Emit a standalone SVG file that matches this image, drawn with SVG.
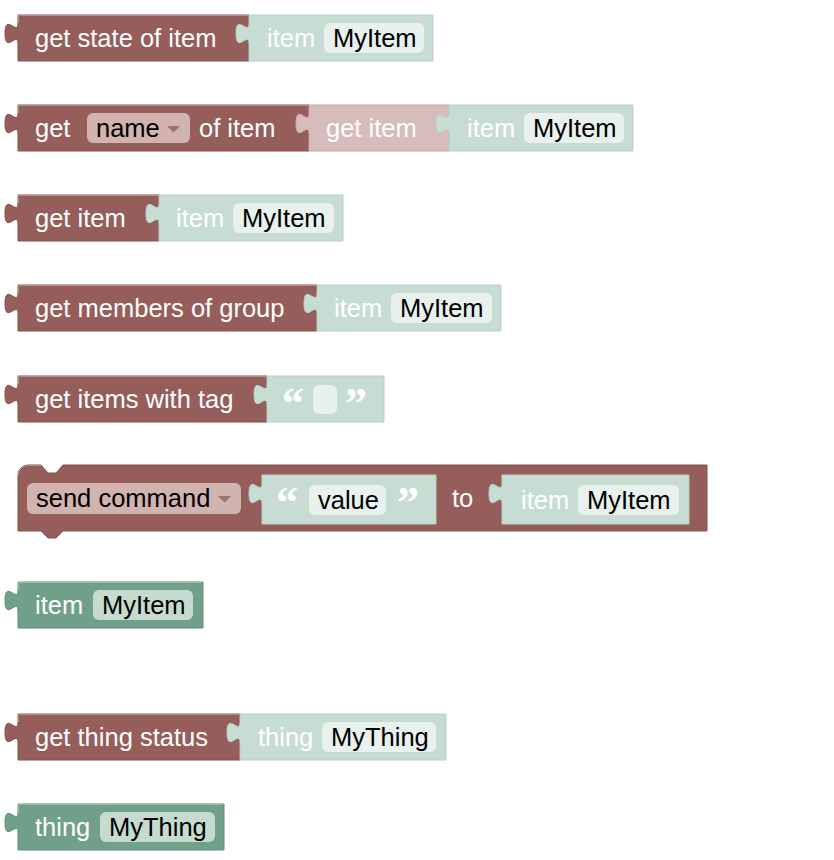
<svg xmlns="http://www.w3.org/2000/svg" width="834" height="860" viewBox="0 0 834 860">
<style>
text{font-family:"Liberation Sans",Arial,Helvetica,sans-serif;font-size:25.5px}
.r{fill:#955e5a;stroke:#84504c;stroke-width:1}
.g{fill:#c7ddd4;stroke:#b7cfc5;stroke-width:1}
.p{fill:#d6bcba;stroke:#c8aaa7;stroke-width:1}
.d{fill:#70a08a;stroke:#5f8e79;stroke-width:1}
.hr{stroke:#b48e8b;stroke-width:1;fill:none}
.hd{stroke:#95bba9;stroke-width:1;fill:none}
.w{fill:#ffffff}
.k{fill:#000000}
.fl{fill:#e8f1ed}
.fd{fill:#c5dbd0}
.dd{fill:#d1b3b0}
.ar{fill:#a0706b}
.q{font-family:"Liberation Serif","Times New Roman",serif;font-weight:bold;font-size:44px;fill:#ffffff}
</style>
<g id="connectors"></g>

<g id="row1" transform="translate(0,15)">
  <path class="r" d="M18,0 H249 V46 H18 V29 c0,-14 -13,11 -13,-10.5 s13,3.5 13,-10.5 Z"/>
  <path class="hr" d="M18.5,8 V0.5 H248"/>
  <text class="w" x="35" y="32">get state of item</text>
  <g id="row1-item">
    <path class="g" d="M249,0 H433 V46 H249 V29 c0,-14 -13,11 -13,-10.5 s13,3.5 13,-10.5 Z"/>
    <text class="w" x="267" y="32">item</text>
    <rect class="fl" x="324" y="8" width="100" height="30" rx="6"/>
    <text class="k" x="333" y="32">MyItem</text>
  </g>
</g>

<g id="row2" transform="translate(0,105)">
  <path class="r" d="M18,0 H309 V46 H18 V29 c0,-14 -13,11 -13,-10.5 s13,3.5 13,-10.5 Z"/>
  <path class="hr" d="M18.5,8 V0.5 H308"/>
  <text class="w" x="35" y="32">get</text>
  <rect class="dd" x="87" y="8" width="103" height="30" rx="6"/>
  <text class="k" x="96" y="32">name</text>
  <path class="ar" d="M167,21 h13 l-6.5,6.5 Z"/>
  <text class="w" x="199" y="32">of item</text>
  <g id="row2-getitem">
    <path class="p" d="M309,0 H449 V46 H309 V29 c0,-14 -13,11 -13,-10.5 s13,3.5 13,-10.5 Z"/>
    <text class="w" x="326" y="32">get item</text>
  </g>
  <g id="row2-item">
    <path class="g" d="M449,0 H633 V46 H449 V29 c0,-14 -13,11 -13,-10.5 s13,3.5 13,-10.5 Z"/>
    <text class="w" x="467" y="32">item</text>
    <rect class="fl" x="524" y="8" width="100" height="30" rx="6"/>
    <text class="k" x="533" y="32">MyItem</text>
  </g>
</g>

<g id="row3" transform="translate(0,195)">
  <path class="r" d="M18,0 H159 V46 H18 V29 c0,-14 -13,11 -13,-10.5 s13,3.5 13,-10.5 Z"/>
  <path class="hr" d="M18.5,8 V0.5 H158"/>
  <text class="w" x="35" y="32">get item</text>
  <g id="row3-item">
    <path class="g" d="M159,0 H343 V46 H159 V29 c0,-14 -13,11 -13,-10.5 s13,3.5 13,-10.5 Z"/>
    <text class="w" x="176" y="32">item</text>
    <rect class="fl" x="233" y="8" width="101" height="30" rx="6"/>
    <text class="k" x="242" y="32">MyItem</text>
  </g>
</g>

<g id="row4" transform="translate(0,285)">
  <path class="r" d="M18,0 H317 V46 H18 V29 c0,-14 -13,11 -13,-10.5 s13,3.5 13,-10.5 Z"/>
  <path class="hr" d="M18.5,8 V0.5 H316"/>
  <text class="w" x="35" y="32">get members of group</text>
  <g id="row4-item">
    <path class="g" d="M317,0 H501 V46 H317 V29 c0,-14 -13,11 -13,-10.5 s13,3.5 13,-10.5 Z"/>
    <text class="w" x="334" y="32">item</text>
    <rect class="fl" x="391" y="8" width="101" height="30" rx="6"/>
    <text class="k" x="400" y="32">MyItem</text>
  </g>
</g>

<g id="row5" transform="translate(0,376)">
  <path class="r" d="M18,0 H267 V46 H18 V29 c0,-14 -13,11 -13,-10.5 s13,3.5 13,-10.5 Z"/>
  <path class="hr" d="M18.5,8 V0.5 H266"/>
  <text class="w" x="35" y="32">get items with tag</text>
  <g id="row5-text">
    <path class="g" d="M267,0 H384 V46 H267 V29 c0,-14 -13,11 -13,-10.5 s13,3.5 13,-10.5 Z"/>
    <text class="q" x="282" y="42">“</text>
    <rect class="fl" x="313" y="9" width="24" height="29" rx="6"/>
    <text class="q" x="345" y="42">”</text>
  </g>
</g>

<g id="row6" transform="translate(0,465)">
  <path class="r" d="M18,10 A10,10 0 0 1 28,0 H41 l7,8 h8 l7,-8 H707 V66 H63 l-7,7 h-8 l-7,-7 H18 Z"/>
  <path class="hr" d="M18.5,10 A9.5,9.5 0 0 1 28,0.5 H41"/>
  <rect class="dd" x="27" y="18" width="214" height="31" rx="6"/>
  <text class="k" x="36" y="42">send command</text>
  <path class="ar" d="M218,31 h13 l-6.5,6.5 Z"/>
  <g id="row6-value">
    <path class="g" d="M262,10 H436 V59 H262 V39 c0,-14 -13,11 -13,-10.5 s13,3.5 13,-10.5 Z"/>
    <text class="q" x="276" y="52">“</text>
    <rect class="fl" x="309" y="20" width="77" height="30" rx="6"/>
    <text class="k" x="318" y="44">value</text>
    <text class="q" x="397" y="52">”</text>
  </g>
  <text class="w" x="452" y="42">to</text>
  <g id="row6-item">
    <path class="g" d="M502,10 H689 V59 H502 V39 c0,-14 -13,11 -13,-10.5 s13,3.5 13,-10.5 Z"/>
    <text class="w" x="521" y="44">item</text>
    <rect class="fl" x="578" y="20" width="101" height="30" rx="6"/>
    <text class="k" x="587" y="44">MyItem</text>
  </g>
</g>

<g id="row7" transform="translate(0,582)">
  <path class="d" d="M18,0 H203 V46 H18 V29 c0,-14 -13,11 -13,-10.5 s13,3.5 13,-10.5 Z"/>
  <path class="hd" d="M18.5,8 V0.5 H202"/>
  <text class="w" x="35" y="32">item</text>
  <rect class="fd" x="93" y="8" width="100" height="30" rx="6"/>
  <text class="k" x="102" y="32">MyItem</text>
</g>

<g id="row8" transform="translate(0,714)">
  <path class="r" d="M18,0 H240 V46 H18 V29 c0,-14 -13,11 -13,-10.5 s13,3.5 13,-10.5 Z"/>
  <path class="hr" d="M18.5,8 V0.5 H239"/>
  <text class="w" x="35" y="32">get thing status</text>
  <g id="row8-thing">
    <path class="g" d="M240,0 H446 V46 H240 V29 c0,-14 -13,11 -13,-10.5 s13,3.5 13,-10.5 Z"/>
    <text class="w" x="258" y="32">thing</text>
    <rect class="fl" x="322" y="8" width="114" height="30" rx="6"/>
    <text class="k" x="331" y="32">MyThing</text>
  </g>
</g>

<g id="row9" transform="translate(0,804)">
  <path class="d" d="M18,0 H224 V46 H18 V29 c0,-14 -13,11 -13,-10.5 s13,3.5 13,-10.5 Z"/>
  <path class="hd" d="M18.5,8 V0.5 H223"/>
  <text class="w" x="35" y="32">thing</text>
  <rect class="fd" x="100" y="8" width="115" height="30" rx="6"/>
  <text class="k" x="109" y="32">MyThing</text>
</g>
</svg>
